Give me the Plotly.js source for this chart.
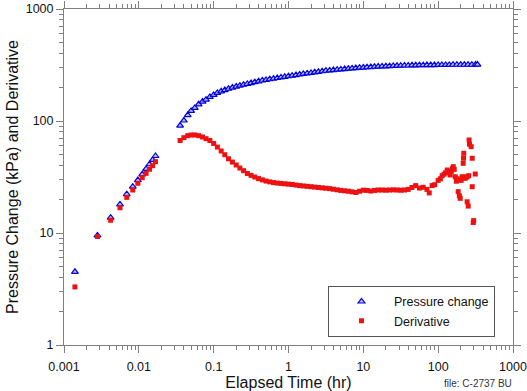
<!DOCTYPE html>
<html>
<head>
<meta charset="utf-8">
<script src="https://cdn.plot.ly/plotly-3.0.1.min.js"></script>
<style>html,body{margin:0;padding:0;background:#fff;}#chart{width:527px;height:391px;}</style>
</head>
<body>
<div id="chart"></div>
<script>
// Elapsed time (hr) for the early-time points
var earlyTimeHr = [0.0014, 0.0028, 0.0042, 0.0056, 0.0069, 0.0083, 0.0097, 0.0111, 0.0125, 0.0139, 0.0153, 0.0167];
var earlyPressure = [4.5, 9.5, 13.7, 18.0, 22.2, 25.9, 29.7, 33.4, 37.3, 41.1, 44.9, 48.7];
var earlyDerivative = [3.3, 9.3, 13.0, 16.8, 20.8, 24.2, 27.8, 31.2, 34.1, 37.1, 39.9, 43.3];

// Later times (hr)
var lateTimeHr = [0.0356, 0.040, 0.045, 0.050, 0.056, 0.063, 0.071, 0.079, 0.089, 0.10,
  0.112, 0.126, 0.141, 0.158, 0.178, 0.20, 0.224, 0.251, 0.282, 0.316,
  0.355, 0.398, 0.447, 0.501, 0.562, 0.631, 0.708, 0.794, 0.891, 1.0,
  1.12, 1.26, 1.41, 1.58, 1.78, 2.0, 2.24, 2.51, 2.82, 3.16,
  3.55, 3.98, 4.47, 5.01, 5.62, 6.31, 7.08, 7.94, 8.91, 10,
  11.2, 12.6, 14.1, 15.8, 17.8, 20, 22.4, 25.1, 28.2, 31.6,
  35.5, 39.8, 44.7, 50.1, 56.2, 63.1, 70.8, 79.4, 89.1, 100,
  112, 126, 141, 158, 178, 200, 224, 251, 282, 316, 335];
var latePressure = [91, 101, 113, 123, 131, 141, 149, 155, 164, 171,
  178, 184, 189, 194, 199, 203, 207, 211, 214, 218,
  222, 226, 230, 233, 236, 239, 242, 245, 248, 251,
  254, 257, 260, 263, 266, 269, 272, 275, 278, 281,
  283, 285, 287, 289, 291, 293, 295, 297, 299, 300,
  302, 303, 305, 306, 307, 308, 309, 310, 311, 312,
  313, 313, 314, 314, 315, 315, 316, 316, 316, 317,
  317, 317, 317, 318, 318, 318, 318, 318, 318, 319, 319];

// Derivative at later times
var derivTimeHr = [0.0356, 0.040, 0.045, 0.050, 0.056, 0.063, 0.071, 0.079, 0.089, 0.10,
  0.112, 0.126, 0.141, 0.158, 0.178, 0.20, 0.224, 0.251, 0.282, 0.316,
  0.355, 0.398, 0.447, 0.501, 0.562, 0.631, 0.708, 0.794, 0.891, 1.0,
  1.12, 1.26, 1.41, 1.58, 1.78, 2.0, 2.24, 2.51, 2.82, 3.16,
  3.55, 3.98, 4.47, 5.01, 5.62, 6.31, 7.08, 7.94, 8.91, 10,
  11.2, 12.6, 14.1, 15.8, 17.8, 20, 22.4, 25.1, 28.2, 31.6,
  35.5, 39.8, 44.7, 50.1, 56.2, 63.1, 70.8, 76, 83, 90,
  100, 107, 113, 120, 126, 132, 139, 145, 150, 155,
  159, 164, 169, 175, 180, 185, 192, 197, 203, 209,
  212, 216, 218, 220, 230, 237, 244, 244, 252, 256,
  259, 262, 276, 285, 285, 294, 298, 313];
var derivValue = [67, 71, 74, 75, 75, 74, 72, 69.5, 67, 63,
  58.5, 54, 50, 46, 43, 40.5, 38, 36, 34, 32.7,
  31.6, 30.6, 29.8, 29.1, 28.6, 28.2, 27.9, 27.7, 27.5, 27.3,
  27.1, 26.8, 26.5, 26.3, 26.1, 25.9, 25.7, 25.5, 25.3, 25.1,
  24.9, 24.6, 24.3, 24.0, 23.8, 23.6, 23.3, 23.0, 23.6, 24.1,
  24.0, 23.7, 24.0, 24.2, 24.2, 24.1, 24.2, 24.3, 24.2, 24.1,
  24.2, 24.5, 25.5, 26.5, 25.2, 25.6, 24.5, 22.8, 26.5, 27.0,
  29.5, 30.5, 32.5, 33.5, 34.5, 36.5, 35.0, 33.0, 35.5, 37.5,
  39.1, 37.0, 31.8, 29.0, 30.5, 23.4, 21.5, 20.4, 29.5, 31.8,
  31.0, 41.9, 46.5, 51.5, 30.8, 31.5, 31.8, 19.0, 17.4, 32.5,
  67.7, 62, 59.0, 46.5, 25.9, 12.4, 12.9, 33.6];

var pressureTime = earlyTimeHr.concat(lateTimeHr);
var pressureValue = earlyPressure.concat(latePressure);
var derivativeTime = earlyTimeHr.concat(derivTimeHr);
var derivativeValue = earlyDerivative.concat(derivValue);

var xTickVals = [0.001, 0.01, 0.1, 1, 10, 100, 1000];
var xTickText = ['0.001', '0.01', '0.1', '1', '10', '100', '1000'];
var yTickVals = [1, 10, 100, 1000];
var yTickText = ['1', '10', '100', '1000'];

var axisColor = '#808080';
var font = 'Liberation Sans, Arial, sans-serif';

var traces = [
  {
    x: pressureTime, y: pressureValue, name: 'Pressure change',
    type: 'scatter', mode: 'markers',
    marker: {symbol: 'triangle-up', size: 6, color: '#b8b8ff', line: {color: '#0000dd', width: 1.2}}
  },
  {
    x: derivativeTime, y: derivativeValue, name: 'Derivative',
    type: 'scatter', mode: 'markers',
    marker: {symbol: 'square', size: 5, color: '#ee1111', line: {width: 0}}
  }
];

function axis(vals, text, titleText) {
  return {
    type: 'log',
    tickvals: vals, ticktext: text,
    ticks: 'outside', ticklen: 7, tickwidth: 1, tickcolor: axisColor,
    showline: true, linecolor: axisColor, linewidth: 1, mirror: 'allticks',
    showgrid: false, zeroline: false,
    tickfont: {family: font, size: 12.5, color: '#111'},
    minor: {ticks: 'outside', ticklen: 4, tickwidth: 1, tickcolor: axisColor, dtick: 'D1', showgrid: false},
    title: {text: titleText, font: {family: font, size: 16, color: '#111'}}
  };
}

var xa = axis(xTickVals, xTickText, 'Elapsed Time (hr)');
xa.range = [-3, 3];
xa.ticklabelstandoff = 3;
xa.title.standoff = 0;
var ya = axis(yTickVals, yTickText, 'Pressure Change (kPa) and Derivative');
ya.range = [0, 3];
ya.title.standoff = 3;

var layout = {
  width: 527, height: 391,
  margin: {l: 64, r: 14, t: 9, b: 46},
  paper_bgcolor: '#ffffff', plot_bgcolor: '#ffffff',
  font: {family: font, color: '#111'},
  xaxis: xa, yaxis: ya,
  showlegend: true,
  legend: {
    x: 0.588, y: 0.176, xanchor: 'left', yanchor: 'top',
    bgcolor: '#ffffff', bordercolor: '#555555', borderwidth: 1,
    font: {family: font, size: 12.5, color: '#111'},
    itemwidth: 55, tracegroupgap: 0
  },
  annotations: [{
    text: 'file: C-2737 BU', xref: 'paper', yref: 'paper',
    x: 1.003, y: -0.114, xanchor: 'right', yanchor: 'middle',
    showarrow: false, font: {family: font, size: 10, color: '#333'}
  }]
};

Plotly.newPlot('chart', traces, layout, {staticPlot: true, displayModeBar: false});
</script>
</body>
</html>
